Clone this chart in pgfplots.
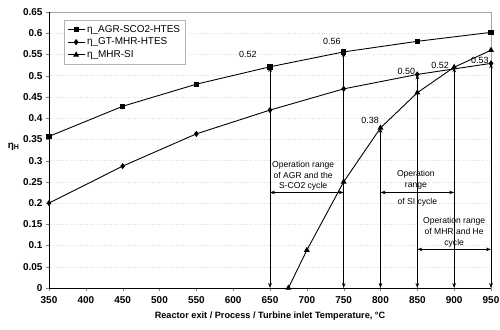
\documentclass[border=0pt]{standalone}
\usepackage{fontspec}
\setmainfont{Liberation Sans}
\usepackage{pgfplots}
\pgfplotsset{compat=1.18}
\usetikzlibrary{arrows.meta}
\begin{document}
\begin{tikzpicture}[>={Stealth[length=5bp,width=3.6bp]}]
\begin{axis}[
  scale only axis, width=442bp, height=276bp,
  at={(0,0)}, anchor=south west,
  xmin=350, xmax=950, ymin=0, ymax=0.65,
  xtick={350,400,...,950},
  ytick={0,0.05,0.1,0.15,0.2,0.25,0.3,0.35,0.4,0.45,0.5,0.55,0.6,0.65},
  yticklabels={0,0.05,0.1,0.15,0.2,0.25,0.3,0.35,0.4,0.45,0.5,0.55,0.6,0.65},
  xticklabels={350,400,450,500,550,600,650,700,750,800,850,900,950},
  tick label style={font=\fontsize{10}{10}\selectfont\bfseries},
  xticklabel style={yshift=-2bp},
  tick align=outside, tick pos=left, major tick length=3bp,
  axis line style={draw=gray!70, line width=0.5pt},
  ymajorgrids, grid style={gray!25, dotted},
  xlabel={Reactor exit / Process / Turbine inlet Temperature, °C},
  xlabel style={font=\fontsize{9.2}{10}\selectfont\bfseries, yshift=-1bp},
  legend style={at={(15/442,1-8/276)}, anchor=north west, draw=gray!60,
    font=\fontsize{10}{11}\selectfont, row sep=0.3bp, inner sep=3bp},
  legend cell align=left,
  clip=false,
]
\draw[black, line width=1pt] (rel axis cs:0,1) -- (rel axis cs:0,0) -- (rel axis cs:1,0);
\addplot[black, line width=0.9pt, mark=square*, mark size=2.2pt] coordinates {
 (350,0.357) (450,0.428) (550,0.480) (650,0.521) (750,0.556) (850,0.581) (950,0.602)};
\addlegendentry{η\_AGR-SCO2-HTES}
\addplot[black, line width=0.9pt, mark=diamond*, mark size=2.4pt] coordinates {
 (350,0.200) (450,0.287) (550,0.363) (650,0.419) (750,0.469) (850,0.503) (950,0.529)};
\addlegendentry{η\_GT-MHR-HTES}
\addplot[black, line width=0.9pt, mark=triangle*, mark size=2.6pt] coordinates {
 (675,0) (700,0.089) (750,0.250) (800,0.377) (850,0.460) (900,0.520) (950,0.560)};
\addlegendentry{η\_MHR-SI}
% vertical arrows
\addplot[black, line width=0.7pt, <->, forget plot] coordinates {(650,0) (650,0.521)};
\addplot[black, line width=0.7pt, <->, forget plot] coordinates {(750,0) (750,0.556)};
\addplot[black, line width=0.7pt, <->, forget plot] coordinates {(800,0) (800,0.377)};
\addplot[black, line width=0.7pt, <->, forget plot] coordinates {(850,0) (850,0.503)};
\addplot[black, line width=0.7pt, <->, forget plot] coordinates {(900,0) (900,0.520)};
\addplot[black, line width=0.9pt, <->, forget plot] coordinates {(950,0) (950,0.529)};
% horizontal arrows
\addplot[black, line width=0.7pt, <->, forget plot] coordinates {(650,0.225) (750,0.225)};
\addplot[black, line width=0.7pt, <->, forget plot] coordinates {(800,0.225) (900,0.225)};
\addplot[black, line width=0.7pt, <->, forget plot] coordinates {(850,0.091) (950,0.091)};
% value labels
\node[font=\fontsize{9}{9}\selectfont] at (axis cs:620,0.551) {0.52};
\node[font=\fontsize{9}{9}\selectfont] at (axis cs:734,0.580) {0.56};
\node[font=\fontsize{9}{9}\selectfont] at (axis cs:786,0.394) {0.38};
\node[font=\fontsize{9}{9}\selectfont] at (axis cs:835,0.511) {0.50};
\node[font=\fontsize{9}{9}\selectfont] at (axis cs:881,0.524) {0.52};
\node[font=\fontsize{9}{9}\selectfont] at (axis cs:935,0.537) {0.53};
% range texts
\node[font=\fontsize{8.6}{10.8}\selectfont, align=center, anchor=south, inner sep=0pt] at (axis cs:695,0.229) {Operation range\\of AGR and the\\S-CO2 cycle};
\node[font=\fontsize{8.6}{10.8}\selectfont, align=center, anchor=south, inner sep=0pt] at (axis cs:848,0.233) {Operation\\range};
\node[font=\fontsize{8.6}{10.8}\selectfont, anchor=north, inner sep=0pt] at (axis cs:850,0.212) {of SI cycle};
\node[font=\fontsize{8.6}{10.8}\selectfont, align=center, anchor=south, inner sep=0pt] at (axis cs:900,0.096) {Operation range\\of MHR and He\\cycle};
% y label
\node[font=\fontsize{10}{11}\selectfont\bfseries] at (axis cs:302,0.333) {η\textsubscript{H}};
\end{axis}
\pgfresetboundingbox
\path (-49bp,-42bp) rectangle (451bp,288bp);
\end{tikzpicture}
\end{document}
